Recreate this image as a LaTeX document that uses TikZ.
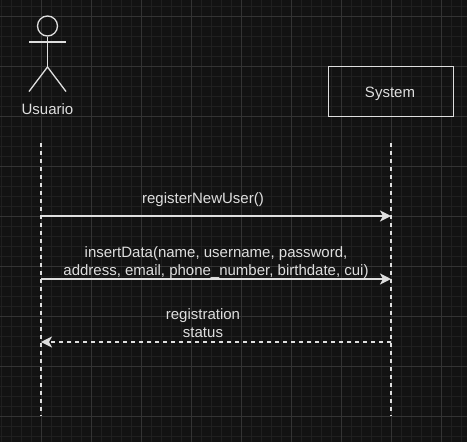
\documentclass[tikz,border=0pt]{standalone}
\usepackage{fontspec}
\setmainfont{Liberation Sans}
\usetikzlibrary{arrows.meta}
\definecolor{bgc}{HTML}{121212}
\definecolor{gridminor}{HTML}{1F1F1F}
\definecolor{gridmajor}{HTML}{333333}
\definecolor{ink}{HTML}{DEDEDE}
\tikzset{
  lbl/.style={text=ink,font=\fontsize{15}{18}\selectfont,align=center,inner sep=0pt},
  lifeline/.style={draw=ink,line width=1.3pt,dash pattern=on 4pt off 4pt},
  msg/.style={draw=ink,line width=1.5pt,-{Stealth[length=11pt,width=11pt,inset=3pt]}},
  reply/.style={msg,dash pattern=on 4pt off 4pt},
  actorline/.style={draw=ink,line width=1.3pt},
}
\begin{document}
\begin{tikzpicture}[x=1pt,y=-1pt]
\useasboundingbox (0,0) rectangle (467,442);
\fill[bgc] (0,0) rectangle (467,442);
\foreach \x in {1,11,...,461} \draw[gridminor,line width=.8pt] (\x,0) -- (\x,442);
\foreach \y in {6,16,...,436} \draw[gridminor,line width=.8pt] (0,\y) -- (467,\y);
\foreach \x in {41,91,...,441} \draw[gridmajor,line width=.8pt] (\x,0) -- (\x,442);
\foreach \y in {16,66,...,416} \draw[gridmajor,line width=.8pt] (0,\y) -- (467,\y);
% actor
\node[circle,actorline,minimum size=20pt,inner sep=0pt] (head) at (47.5,26) {};
\coordinate (armL) at (29,42);
\coordinate (armR) at (66,42);
\coordinate (hip) at (47.5,67);
\coordinate (legL) at (29,91.5);
\coordinate (legR) at (66,91.5);
\draw[actorline] (head.south) -- (hip);
\draw[actorline] (armL) -- (armR);
\draw[actorline] (legL) -- (hip) -- (legR);
\node[lbl] (usuario) at (47.5,109) {Usuario};
% system
\node[draw=ink,line width=1.9pt,minimum width=125pt,minimum height=50pt,inner sep=0pt] (system) at (391,91.5) {};
\node[lbl] (systemlabel) at (390,93.5) {System};
% lifelines
\coordinate (uTop) at (41,143);
\coordinate (uBot) at (41,416);
\coordinate (sTop) at (391,143);
\coordinate (sBot) at (391,416);
\draw[lifeline] (uTop) -- (uBot);
\draw[lifeline] (sTop) -- (sBot);
% messages
\coordinate (u1) at (41,216);
\coordinate (s1) at (391,216);
\coordinate (u2) at (41,279);
\coordinate (s2) at (391,279);
\coordinate (u3) at (41,342);
\coordinate (s3) at (391,342);
\draw[msg] (u1) -- (s1);
\draw[msg] (u2) -- (s2);
\draw[reply] (s3) -- (u3);
\node[lbl] (m1) at (203,199.5) {registerNewUser()};
\node[lbl] (m2) at (216,262.5) {insertData(name, username, password,\\address, email, phone\_number, birthdate, cui)};
\node[lbl] (m3) at (203,323) {registration\\status};
\end{tikzpicture}
\end{document}
